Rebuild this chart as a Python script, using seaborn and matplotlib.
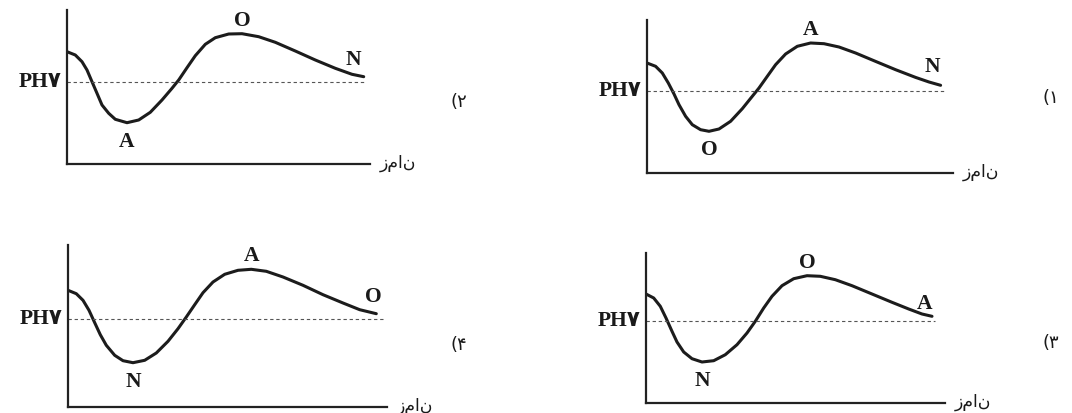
import numpy as np
import pandas as pd
import matplotlib
matplotlib.use('Agg')
import matplotlib.pyplot as plt
import seaborn as sns

sns.set_style('white')
plt.rcParams['font.family'] = ['Liberation Serif', 'DejaVu Sans']

# curve points (x = time, y = pH, in panel pixels)
# panel 1 (top right)
x1 = [0, 8.6, 15.3, 21.3, 27, 32, 38.6, 45.3, 53.6, 62, 72, 83.6, 95.3, 105.3, 112, 120.3, 128.6,
      138.6, 150.3, 163.6, 177, 192, 208.6, 228.6, 248.6, 268.6, 282, 293.6]
y1 = [110, 106.7, 100, 90, 79, 68.3, 56.7, 48.3, 43.3, 41.7, 44, 51.7, 64.3, 76.7, 85, 96.7, 108.3,
      119, 126.7, 130, 129.3, 126, 120, 111.6, 103.3, 95.6, 91, 87.7]
# panel 2 (top left)
x2 = [0, 8.3, 15, 20, 25, 30, 35, 41.7, 48.3, 60, 71.7, 83.3, 95, 105, 111.7, 120, 128.3,
      138.3, 148.3, 161.7, 175, 191.7, 208.3, 228.3, 248.3, 268.3, 285, 296.7]
y2 = [112.3, 109, 102.3, 94, 82.3, 70.7, 59, 50.7, 44.7, 41.3, 44, 51.7, 64, 75.7, 84, 96.3, 108.3,
      119.7, 126.3, 130, 130.3, 127.3, 121.7, 113, 104, 95.7, 89.7, 87.3]
# panel 3 (bottom right)
x3 = [0, 7.7, 14.3, 20, 26, 31, 37.7, 46, 56, 67.7, 79.3, 91, 101, 109.3, 117.7, 126, 136,
      147.7, 161, 174.3, 189.3, 206, 226, 246, 262.7, 276, 286]
y3 = [109, 105, 96.7, 85, 71.7, 61, 51, 44.3, 41, 42.3, 48.3, 58.3, 70, 81.7, 95, 106.7, 117.3,
      124.3, 127.3, 126.7, 123.3, 117.3, 109, 100.7, 94, 89, 86.7]
# panel 4 (bottom left)
x4 = [0, 8.3, 15, 21, 26.7, 32.3, 38.3, 46.7, 55, 65, 76.7, 88.3, 100, 110, 118.3, 126.7, 135,
      145, 156.7, 170, 183.3, 198.3, 215, 235, 255, 275, 291.7, 308.3]
y4 = [116.7, 113.3, 106.7, 96.7, 84.3, 72.3, 61.7, 51.7, 46.3, 44.3, 46.7, 54, 65.7, 78.3, 90, 102.3, 114.3,
      125, 132.7, 136.7, 137.7, 135.7, 130, 121.7, 112.3, 104, 97.3, 93.3]

# point names: minimum, maximum, end of curve
names1 = ['O', 'A', 'N']
names2 = ['A', 'O', 'N']
names3 = ['N', 'O', 'A']
names4 = ['N', 'A', 'O']

ph7 = [81.6, 82.3, 81.6, 87.7]          # level of the dashed PH7 line
dash_end = [297, 298, 289, 315]
panel_nums = ['(۱', '(۲', '(۳', '(۴']
ph_label = 'PH۷'
time_label = 'زمان'

W, H = 1072, 413
fig = plt.figure(figsize=(W / 100, H / 100), dpi=100)
fig.patch.set_facecolor('white')

# axes boxes in pixels: left, bottom(origin y), width, height
boxes = [(647, 173, 306, 153), (67, 164, 303, 154), (646, 403, 299, 150), (68, 407, 319, 162)]
num_pos = [(1043, 98), (450, 102), (1043, 343), (450, 345)]
end_off = [(-8, 18), (-10, 17), (-7, 12), (-3, 17)]

curves = [(x1, y1, names1), (x2, y2, names2), (x3, y3, names3), (x4, y4, names4)]

for i, ((xs, ys, names), (l, oy, w, h)) in enumerate(zip(curves, boxes)):
    ax = fig.add_axes([l / W, (H - oy) / H, w / W, h / H])
    ax.patch.set_alpha(0)
    df = pd.DataFrame({'t': xs, 'ph': ys})
    sns.lineplot(data=df, x='t', y='ph', ax=ax, color='#1c1c1c', linewidth=2.2,
                 estimator=None, sort=False, solid_joinstyle='round', solid_capstyle='round')
    ax.hlines(ph7[i], 0, dash_end[i], colors='#555555', linestyles=(0, (3, 2.5)), linewidth=0.8)
    ax.set_xlim(0, w)
    ax.set_ylim(0, h)
    ax.set_xticks([])
    ax.set_yticks([])
    ax.set_xlabel('')
    ax.set_ylabel('')
    for s in ['top', 'right']:
        ax.spines[s].set_visible(False)
    for s in ['left', 'bottom']:
        ax.spines[s].set_color('#222222')
        ax.spines[s].set_linewidth(1.6)

    k_min = int(np.argmin(ys))
    k_max = int(np.argmax(ys))
    pts = [(xs[k_min], ys[k_min], (0, -19)), (xs[k_max], ys[k_max], (0, 13)),
           (xs[-1], ys[-1], end_off[i])]
    for name, (px, py, off) in zip(names, pts):
        ax.annotate(name, (px, py), xytext=off, textcoords='offset pixels',
                    ha='center', va='center', fontsize=15.5, fontweight='bold',
                    color='#1a1a1a', annotation_clip=False)

    ax.annotate(ph_label, (0, ph7[i]), xytext=(-5, 0), textcoords='offset pixels',
                ha='right', va='center', fontsize=15.5, fontweight='bold',
                color='#1a1a1a', annotation_clip=False)
    ax.annotate(time_label, (w, 0), xytext=(10, 1), textcoords='offset pixels',
                ha='left', va='center', fontsize=12.5, color='#1a1a1a',
                family=['DejaVu Sans'], annotation_clip=False)

    nx, ny = num_pos[i]
    fig.text(nx / W, (H - ny) / H, panel_nums[i], ha='left', va='center',
             fontsize=13, color='#1a1a1a', family=['DejaVu Sans'])

fig.savefig('out.png', dpi=100)
